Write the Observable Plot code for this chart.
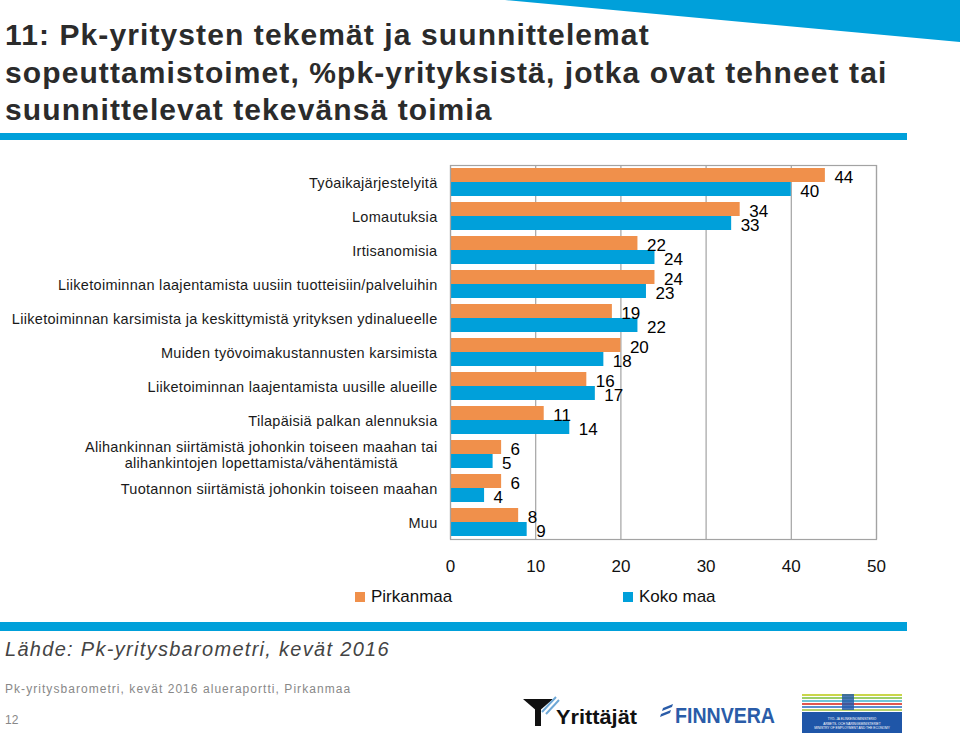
<!DOCTYPE html>
<html>
<head>
<meta charset="utf-8">
<script src="https://cdn.jsdelivr.net/npm/d3@7"></script>
<script src="https://cdn.jsdelivr.net/npm/@observablehq/plot@0.6"></script>
<style>
  html, body { margin: 0; padding: 0; background: #fff; }
  body { width: 960px; height: 738px; position: relative; overflow: hidden; font-family: "Liberation Sans", Arial, sans-serif; }
  .abs { position: absolute; }
  #title { left: 5px; top: 16px; font-size: 30px; font-weight: bold; line-height: 37.5px; color: #2b2b2b; letter-spacing: 1.1px; white-space: nowrap; }
  #chart { left: 0; top: 150px; }
  #chart g[aria-label="fy-axis tick label"] text { letter-spacing: 0.3px; }
  .legend { font-size: 17px; color: #111; white-space: nowrap; }
  .sw { display: inline-block; width: 10px; height: 10px; margin-right: 6px; }
  #source { left: 5px; top: 638px; font-size: 20px; font-style: italic; color: #444; letter-spacing: 1.3px; white-space: nowrap; }
  #foot { left: 5px; top: 682px; font-size: 12px; color: #888; letter-spacing: 1.05px; white-space: nowrap; }
  #page { left: 5px; top: 713px; font-size: 12px; color: #888; }
</style>
</head>
<body>
<script>
// ---- data ----
const categories = [
  "Työaikajärjestelyitä",
  "Lomautuksia",
  "Irtisanomisia",
  "Liiketoiminnan laajentamista uusiin tuotteisiin/palveluihin",
  "Liiketoiminnan karsimista ja keskittymistä yrityksen ydinalueelle",
  "Muiden työvoimakustannusten karsimista",
  "Liiketoiminnan laajentamista uusille alueille",
  "Tilapäisiä palkan alennuksia",
  "Alihankinnan siirtämistä johonkin toiseen maahan tai\nalihankintojen lopettamista/vähentämistä",
  "Tuotannon siirtämistä johonkin toiseen maahan",
  "Muu"
];
const series = ["Pirkanmaa", "Koko maa"];
const pirkanmaa = [44, 34, 22, 24, 19, 20, 16, 11, 6, 6, 8];
const kokoMaa = [40, 33, 24, 23, 22, 18, 17, 14, 5, 4, 9];
const xTicks = [0, 10, 20, 30, 40, 50];
const seriesColors = ["#F0904B", "#00A0DA"];
const titleLines = [
  "11: Pk-yritysten tekemät ja suunnittelemat",
  "sopeuttamistoimet, %pk-yrityksistä, jotka ovat tehneet tai",
  "suunnittelevat tekevänsä toimia"
];
const sourceText = "Lähde: Pk-yritysbarometri, kevät 2016";
const footText = "Pk-yritysbarometri, kevät 2016 alueraportti, Pirkanmaa";
const pageNo = "12";

const data = [];
categories.forEach((c, i) => {
  data.push({category: c, series: series[0], value: pirkanmaa[i]});
  data.push({category: c, series: series[1], value: kokoMaa[i]});
});

// ---- decorations ----
const deco = document.createElementNS("http://www.w3.org/2000/svg", "svg");
deco.setAttribute("width", 960); deco.setAttribute("height", 738);
deco.setAttribute("class", "abs"); deco.style.left = "0"; deco.style.top = "0";
deco.innerHTML = `
  <polygon points="505,0 960,0 960,42" fill="#00A0DA"/>
  <rect x="0" y="133" width="907" height="7" fill="#00A0DA"/>
  <rect x="0" y="622" width="907" height="9" fill="#00A0DA"/>
  <g>
    <polygon points="523,699 553,699 538,712" fill="#111"/>
    <rect x="535" y="708" width="6" height="18" fill="#111"/>
    <line x1="542" y1="712" x2="556" y2="697" stroke="#6fa8d6" stroke-width="2"/>
    <line x1="546" y1="714" x2="559" y2="700" stroke="#6fa8d6" stroke-width="2"/>
    <text x="556" y="724" font-family="Liberation Sans, Arial" font-weight="bold" font-size="21" fill="#111" textLength="81" lengthAdjust="spacingAndGlyphs">Yrittäjät</text>
  </g>
  <g>
    <polygon points="661,714 671,710 670,713 660,717" fill="#2a5ca8"/>
    <polygon points="663,708 673,704 672,707 662,711" fill="#2a5ca8"/>
    <text x="675" y="723" font-family="Liberation Sans, Arial" font-weight="bold" font-size="22" fill="#2a5ca8" textLength="100" lengthAdjust="spacingAndGlyphs">FINNVERA</text>
  </g>
  <g>
    <rect x="802" y="693" width="100" height="40" fill="#fff"/>
    <rect x="802" y="694" width="100" height="2" fill="#c9d64a"/>
    <rect x="802" y="697" width="100" height="2" fill="#9ccf6a"/>
    <rect x="802" y="700" width="100" height="2" fill="#6ec6d8"/>
    <rect x="802" y="703" width="100" height="2" fill="#e0574f"/>
    <rect x="802" y="706" width="100" height="2" fill="#5a8fd0"/>
    <rect x="802" y="709" width="100" height="2" fill="#b7d16b"/>
    <rect x="802" y="712" width="100" height="21" fill="#1f56a8"/>
    <rect x="842" y="694" width="12" height="16" fill="#1f56a8" opacity="0.8"/>
    <text x="852" y="720" text-anchor="middle" font-family="Liberation Sans, Arial" font-size="3.2" fill="#fff">TYÖ- JA ELINKEINOMINISTERIÖ</text>
    <text x="852" y="724.5" text-anchor="middle" font-family="Liberation Sans, Arial" font-size="3.2" fill="#fff">ARBETS- OCH NÄRINGSMINISTERIET</text>
    <text x="852" y="729" text-anchor="middle" font-family="Liberation Sans, Arial" font-size="3.2" fill="#fff">MINISTRY OF EMPLOYMENT AND THE ECONOMY</text>
  </g>`;
document.body.appendChild(deco);

// ---- title ----
const title = document.createElement("div");
title.id = "title"; title.className = "abs";
title.innerHTML = titleLines.join("<br>");
document.body.appendChild(title);

// ---- chart ----
const chart = Plot.plot({
  width: 960,
  height: 430,
  marginTop: 13,
  marginBottom: 39,
  marginLeft: 450,
  marginRight: 84,
  style: {fontFamily: "Liberation Sans, Arial, sans-serif", fontSize: "14.5px", color: "#1a1a1a", background: "transparent", overflow: "visible"},
  x: {domain: [0, 50]},
  y: {domain: series, paddingInner: 0, paddingOuter: 0.2, axis: null},
  fy: {domain: categories, padding: 0},
  color: {domain: series, range: seriesColors},
  marks: [
    Plot.ruleX(xTicks, {stroke: "#a3a3a3", strokeWidth: 1.2}),
    Plot.barX(data, {x: "value", y: "series", fy: "category", fill: "series"}),
    Plot.frame({stroke: "#a3a3a3", strokeWidth: 1.2, facet: "super"}),
    Plot.text(data, {x: "value", y: "series", fy: "category", text: d => String(d.value), textAnchor: "start", dx: 9, dy: 2, fontSize: 17, fill: "#000"}),
    Plot.axisX(xTicks, {anchor: "bottom", tickSize: 0, tickPadding: 20, fontSize: 17, label: null, fill: "#111"}),
    Plot.axisFy({anchor: "left", tickSize: 0, tickPadding: 13, fontSize: 14.5, lineHeight: 1.15, label: null, fill: "#1a1a1a"})
  ]
});
chart.id = "chart"; chart.classList.add("abs");
document.body.appendChild(chart);

// center the second line of a multi-line category label under the first
chart.querySelectorAll("text").forEach(t => {
  const spans = t.querySelectorAll("tspan");
  if (spans.length > 1) {
    const widths = Array.from(spans, s => s.getComputedTextLength());
    const w = Math.max(...widths);
    t.setAttribute("text-anchor", "middle");
    spans.forEach(s => s.setAttribute("x", -w / 2));
  }
});

// ---- legend ----
series.forEach((s, i) => {
  const el = document.createElement("div");
  el.className = "abs legend";
  el.style.left = (i === 0 ? 355 : 623) + "px";
  el.style.top = "587px";
  el.innerHTML = `<span class="sw" style="background:${seriesColors[i]}"></span>${s}`;
  document.body.appendChild(el);
});

// ---- footer ----
const src = document.createElement("div"); src.id = "source"; src.className = "abs"; src.textContent = sourceText; document.body.appendChild(src);
const ft = document.createElement("div"); ft.id = "foot"; ft.className = "abs"; ft.textContent = footText; document.body.appendChild(ft);
const pg = document.createElement("div"); pg.id = "page"; pg.className = "abs"; pg.textContent = pageNo; document.body.appendChild(pg);
</script>
</body>
</html>
